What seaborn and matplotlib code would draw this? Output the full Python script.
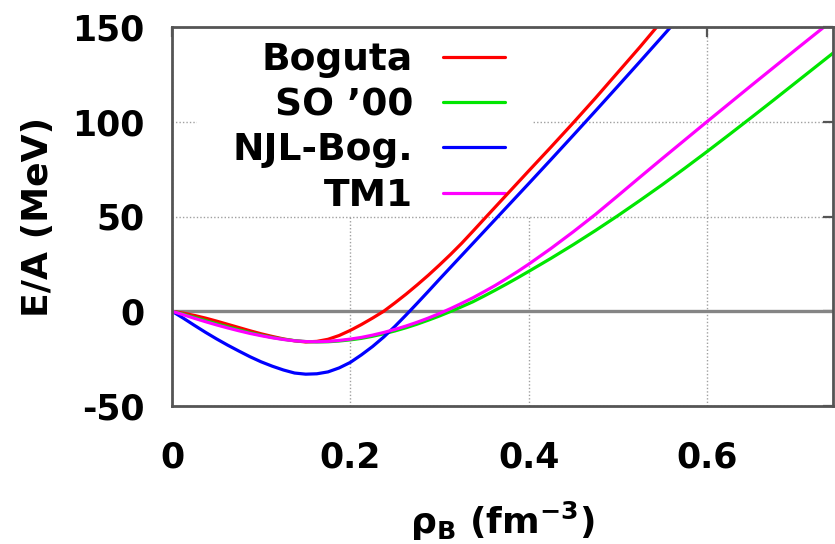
import numpy as np
import pandas as pd
import seaborn as sns
import matplotlib.pyplot as plt
from matplotlib.patches import Rectangle

# ---- data ----
series_names = ["Boguta", "SO \u201900", "NJL-Bog.", "TM1"]
series_colors = ["#ff0000", "#00e600", "#0000ff", "#ff00ff"]

x_boguta = [0, 0.0125, 0.025, 0.0375, 0.05, 0.0625, 0.075, 0.0875, 0.1, 0.1125,
            0.125, 0.1375, 0.15, 0.1625, 0.175, 0.1875, 0.2, 0.2125, 0.225, 0.2375,
            0.25, 0.2625, 0.275, 0.2875, 0.3, 0.3125, 0.325, 0.3375, 0.35, 0.375,
            0.4, 0.425, 0.45, 0.475, 0.5, 0.525, 0.55]
y_boguta = [0, -1.0, -2.2, -3.6, -5.2, -6.9, -8.6, -10.3, -11.9, -13.3,
            -14.6, -15.6, -16.2, -15.9, -14.8, -12.8, -10.1, -7.0, -3.6, 0.0,
            4.4, 9.0, 13.9, 19.0, 24.4, 30.0, 35.9, 42.2, 48.6, 61.3,
            74.0, 86.6, 99.4, 112.5, 126.0, 139.5, 153.5]

x_so00 = [0, 0.0125, 0.025, 0.0375, 0.05, 0.0625, 0.075, 0.0875, 0.1, 0.1125,
          0.125, 0.1375, 0.15, 0.1625, 0.175, 0.1875, 0.2, 0.2125, 0.225, 0.2375,
          0.25, 0.2625, 0.275, 0.2875, 0.3, 0.3125, 0.325, 0.3375, 0.35, 0.3625,
          0.375, 0.3875, 0.4, 0.425, 0.45, 0.475, 0.5, 0.525, 0.55, 0.575,
          0.6, 0.625, 0.65, 0.675, 0.7, 0.725, 0.75]
y_so00 = [0, -1.5, -3.2, -4.9, -6.6, -8.2, -9.8, -11.3, -12.6, -13.8,
          -14.8, -15.5, -16.0, -16.2, -16.1, -15.7, -15.1, -14.3, -13.2, -11.9,
          -10.4, -8.7, -6.8, -4.7, -2.5, -0.1, 2.4, 5.0, 8.0, 11.1,
          14.3, 17.6, 21.0, 27.9, 35.1, 42.6, 50.4, 58.5, 66.8, 75.4,
          84.2, 93.2, 102.3, 111.5, 120.8, 130.1, 139.4]

x_njl = [0, 0.0125, 0.025, 0.0375, 0.05, 0.0625, 0.075, 0.0875, 0.1, 0.1125,
         0.125, 0.1375, 0.15, 0.1625, 0.175, 0.1875, 0.2, 0.2125, 0.225, 0.2375,
         0.25, 0.2625, 0.275, 0.2875, 0.3, 0.3125, 0.325, 0.3375, 0.35, 0.3625,
         0.375, 0.4, 0.425, 0.45, 0.475, 0.5, 0.525, 0.55, 0.575]
y_njl = [0, -3.6, -7.4, -11.1, -14.6, -17.9, -21.0, -24.0, -26.7, -29.0,
         -31.0, -32.6, -33.2, -33.0, -32.0, -29.9, -27.0, -23.0, -18.6, -13.6,
         -8.0, -2.0, 4.2, 10.5, 16.9, 23.2, 29.5, 35.8, 42.1, 48.4,
         54.7, 67.3, 80.0, 92.8, 105.7, 118.7, 131.8, 145.0, 158.3]

x_tm1 = [0, 0.0125, 0.025, 0.0375, 0.05, 0.0625, 0.075, 0.0875, 0.1, 0.1125,
         0.125, 0.1375, 0.15, 0.1625, 0.175, 0.1875, 0.2, 0.2125, 0.225, 0.2375,
         0.25, 0.2625, 0.275, 0.2875, 0.3, 0.3125, 0.325, 0.3375, 0.35, 0.3625,
         0.375, 0.3875, 0.4, 0.425, 0.45, 0.475, 0.5, 0.525, 0.55, 0.575,
         0.6, 0.625, 0.65, 0.675, 0.7, 0.725, 0.75]
y_tm1 = [0, -1.8, -3.7, -5.5, -7.2, -8.8, -10.3, -11.7, -12.9, -14.0,
         -14.9, -15.6, -16.0, -16.1, -15.9, -15.4, -14.7, -13.8, -12.6, -11.2,
         -9.6, -7.8, -5.8, -3.6, -1.2, 1.4, 4.2, 7.1, 10.3, 13.6,
         17.2, 20.9, 24.8, 33.1, 41.9, 51.1, 60.9, 70.8, 80.6, 90.3,
         100.0, 109.6, 119.2, 128.7, 138.2, 147.6, 157.0]

x_ticks = [0, 0.2, 0.4, 0.6]
x_tick_labels = ["0", "0.2", "0.4", "0.6"]
y_ticks = [-50, 0, 50, 100, 150]
y_tick_labels = ["-50", "0", "50", "100", "150"]

frames = []
for name, xs, ys in zip(series_names,
                        [x_boguta, x_so00, x_njl, x_tm1],
                        [y_boguta, y_so00, y_njl, y_tm1]):
    frames.append(pd.DataFrame({"rho": xs, "EA": ys, "model": name}))
df = pd.concat(frames, ignore_index=True)

# ---- style ----
sns.set_theme(style="white")
plt.rcParams["font.family"] = ["DejaVu Sans"]
plt.rcParams["font.weight"] = "bold"
plt.rcParams["mathtext.fontset"] = "dejavusans"
plt.rcParams["mathtext.default"] = "bf"
plt.rcParams["text.color"] = "black"
plt.rcParams["axes.labelcolor"] = "black"
plt.rcParams["xtick.labelcolor"] = "black"
plt.rcParams["ytick.labelcolor"] = "black"

W, H = 835, 544
fig = plt.figure(figsize=(W / 100, H / 100), dpi=100)
L, R, T, B = 172, 833, 27, 406
ax = fig.add_axes([L / W, (H - B) / H, (R - L) / W, (B - T) / H])

palette = dict(zip(series_names, series_colors))
sns.lineplot(data=df, x="rho", y="EA", hue="model", hue_order=series_names,
             palette=palette, sort=False, estimator=None, linewidth=2.3, ax=ax,
             zorder=2)

ax.axhline(0, color="#858585", lw=2.4, zorder=1)

ax.set_xlim(0, (R - L) / 891.5)
ax.set_ylim(-50, 150)
ax.set_xticks(x_ticks)
ax.set_xticklabels(x_tick_labels)
ax.set_yticks(y_ticks)
ax.set_yticklabels(y_tick_labels)

ax.set_axisbelow(True)
ax.grid(True, ls=(0, (1, 1.5)), color="#a0a0a0", lw=1.0)

for sp in ax.spines.values():
    sp.set_visible(True)
    sp.set_color("#555555")
    sp.set_linewidth(2.0)

ax.tick_params(axis="both", direction="in", length=7, width=1.6, color="#555555",
               labelcolor="black", top=True, right=True, labelsize=25)
ax.tick_params(axis="x", pad=25)
ax.tick_params(axis="y", pad=20)
for t in ax.get_xticklabels() + ax.get_yticklabels():
    t.set_fontweight("bold")

ax.set_xlabel(r"$\rho_\mathbf{B}$ (fm$^\mathbf{-3}$)", fontsize=26, fontweight="bold",
              color="black")
ax.set_ylabel("E/A (MeV)", fontsize=26, fontweight="bold", color="black")
ax.xaxis.set_label_coords(0.5, (B - 500) / (B - T))
ax.yaxis.set_label_coords((55 - L) / (R - L), 0.5)

# white key background (hides the grid behind the key, as in the reference)
key_box = Rectangle(((197 - L) / (R - L), (B - 216) / (B - T)),
                    (532 - 197) / (R - L), (216 - T) / (B - T),
                    transform=ax.transAxes, facecolor="white", edgecolor="none",
                    zorder=1.4)
ax.add_patch(key_box)

handles, labels = ax.get_legend_handles_labels()
fs = 27
fs_px = fs * 100 / 72
bp = 0.15
leg = ax.legend(handles, labels, loc="upper right",
                bbox_to_anchor=((505 + bp * fs_px - L) / (R - L), (B - 36) / (B - T)),
                markerfirst=False, fontsize=fs, frameon=False,
                handlelength=1.65, handletextpad=0.8, labelspacing=0.25,
                borderpad=bp, borderaxespad=0)
for t in leg.get_texts():
    t.set_fontweight("bold")
    t.set_color("black")
for h in leg.get_lines():
    h.set_linewidth(2.3)
leg.set_zorder(1.6)

fig.savefig("out.png", dpi=100)
